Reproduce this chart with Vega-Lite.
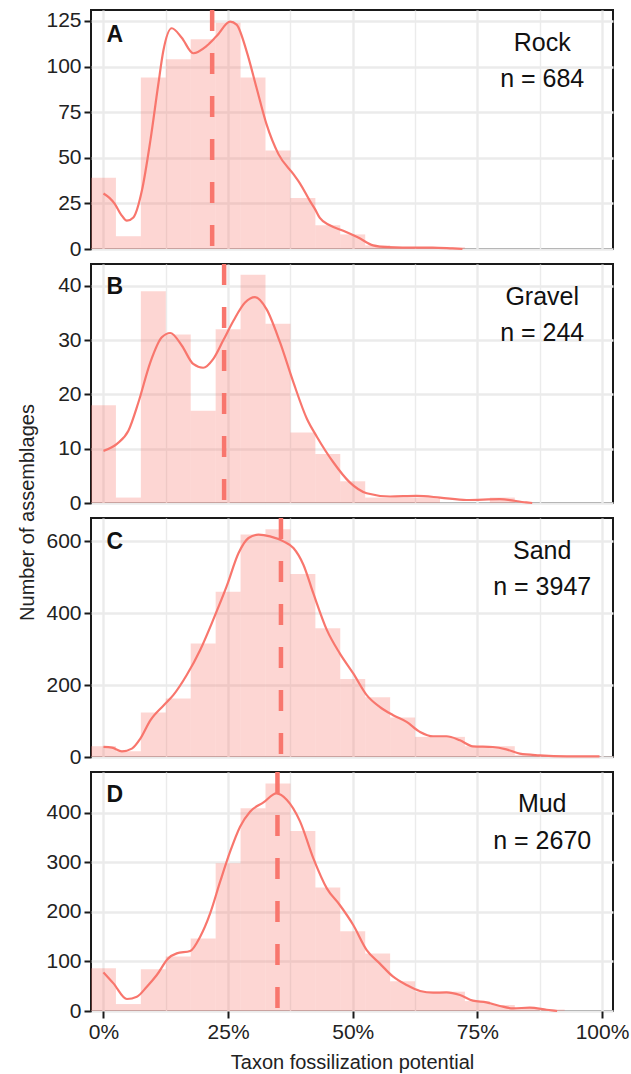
{
  "$schema": "https://vega.github.io/schema/vega-lite/v6.json",
  "background": "white",
  "padding": {"left": 16, "top": 6, "right": 4, "bottom": 4},
  "bounds": "flush",
  "spacing": 15,
  "config": {
    "font": "Liberation Sans",
    "view": {"stroke": "#1a1a1a", "strokeWidth": 2},
    "axis": {
      "domain": false,
      "gridColor": "#EBEBEB",
      "tickColor": "#1a1a1a",
      "tickWidth": 2,
      "tickSize": 7,
      "labelColor": "#222222",
      "labelFontSize": 21,
      "labelPadding": 3,
      "labelOverlap": false,
      "labelFlush": false,
      "titleFontSize": 20,
      "titleFontWeight": "normal",
      "titleColor": "#222222"
    }
  },
  "datasets": {
    "hist": [
      {"panel": "A", "lo": -2.5, "hi": 2.5, "count": 39},
      {"panel": "A", "lo": 2.5, "hi": 7.5, "count": 7},
      {"panel": "A", "lo": 7.5, "hi": 12.5, "count": 94},
      {"panel": "A", "lo": 12.5, "hi": 17.5, "count": 104},
      {"panel": "A", "lo": 17.5, "hi": 22.5, "count": 115},
      {"panel": "A", "lo": 22.5, "hi": 27.5, "count": 124},
      {"panel": "A", "lo": 27.5, "hi": 32.5, "count": 94},
      {"panel": "A", "lo": 32.5, "hi": 37.5, "count": 54},
      {"panel": "A", "lo": 37.5, "hi": 42.5, "count": 28},
      {"panel": "A", "lo": 42.5, "hi": 47.5, "count": 13},
      {"panel": "A", "lo": 47.5, "hi": 52.5, "count": 8},
      {"panel": "A", "lo": 52.5, "hi": 57.5, "count": 2},
      {"panel": "A", "lo": 57.5, "hi": 62.5, "count": 1},
      {"panel": "A", "lo": 62.5, "hi": 67.5, "count": 1},
      {"panel": "A", "lo": 67.5, "hi": 72.5, "count": 1},
      {"panel": "B", "lo": -2.5, "hi": 2.5, "count": 18},
      {"panel": "B", "lo": 2.5, "hi": 7.5, "count": 1},
      {"panel": "B", "lo": 7.5, "hi": 12.5, "count": 39},
      {"panel": "B", "lo": 12.5, "hi": 17.5, "count": 31},
      {"panel": "B", "lo": 17.5, "hi": 22.5, "count": 17},
      {"panel": "B", "lo": 22.5, "hi": 27.5, "count": 32},
      {"panel": "B", "lo": 27.5, "hi": 32.5, "count": 42},
      {"panel": "B", "lo": 32.5, "hi": 37.5, "count": 33},
      {"panel": "B", "lo": 37.5, "hi": 42.5, "count": 13},
      {"panel": "B", "lo": 42.5, "hi": 47.5, "count": 9},
      {"panel": "B", "lo": 47.5, "hi": 52.5, "count": 4},
      {"panel": "B", "lo": 52.5, "hi": 57.5, "count": 1},
      {"panel": "B", "lo": 57.5, "hi": 62.5, "count": 1},
      {"panel": "B", "lo": 62.5, "hi": 67.5, "count": 1},
      {"panel": "B", "lo": 77.5, "hi": 82.5, "count": 1},
      {"panel": "C", "lo": -2.5, "hi": 2.5, "count": 30},
      {"panel": "C", "lo": 2.5, "hi": 7.5, "count": 16},
      {"panel": "C", "lo": 7.5, "hi": 12.5, "count": 124},
      {"panel": "C", "lo": 12.5, "hi": 17.5, "count": 163},
      {"panel": "C", "lo": 17.5, "hi": 22.5, "count": 316},
      {"panel": "C", "lo": 22.5, "hi": 27.5, "count": 460},
      {"panel": "C", "lo": 27.5, "hi": 32.5, "count": 619},
      {"panel": "C", "lo": 32.5, "hi": 37.5, "count": 634},
      {"panel": "C", "lo": 37.5, "hi": 42.5, "count": 509},
      {"panel": "C", "lo": 42.5, "hi": 47.5, "count": 358},
      {"panel": "C", "lo": 47.5, "hi": 52.5, "count": 217},
      {"panel": "C", "lo": 52.5, "hi": 57.5, "count": 166},
      {"panel": "C", "lo": 57.5, "hi": 62.5, "count": 110},
      {"panel": "C", "lo": 62.5, "hi": 67.5, "count": 56},
      {"panel": "C", "lo": 67.5, "hi": 72.5, "count": 56},
      {"panel": "C", "lo": 72.5, "hi": 77.5, "count": 30},
      {"panel": "C", "lo": 77.5, "hi": 82.5, "count": 30},
      {"panel": "C", "lo": 82.5, "hi": 87.5, "count": 5},
      {"panel": "C", "lo": 87.5, "hi": 92.5, "count": 3},
      {"panel": "C", "lo": 92.5, "hi": 97.5, "count": 2},
      {"panel": "C", "lo": 97.5, "hi": 102.5, "count": 1},
      {"panel": "D", "lo": -2.5, "hi": 2.5, "count": 86},
      {"panel": "D", "lo": 2.5, "hi": 7.5, "count": 14},
      {"panel": "D", "lo": 7.5, "hi": 12.5, "count": 84},
      {"panel": "D", "lo": 12.5, "hi": 17.5, "count": 110},
      {"panel": "D", "lo": 17.5, "hi": 22.5, "count": 146},
      {"panel": "D", "lo": 22.5, "hi": 27.5, "count": 298},
      {"panel": "D", "lo": 27.5, "hi": 32.5, "count": 409},
      {"panel": "D", "lo": 32.5, "hi": 37.5, "count": 459},
      {"panel": "D", "lo": 37.5, "hi": 42.5, "count": 363},
      {"panel": "D", "lo": 42.5, "hi": 47.5, "count": 249},
      {"panel": "D", "lo": 47.5, "hi": 52.5, "count": 161},
      {"panel": "D", "lo": 52.5, "hi": 57.5, "count": 116},
      {"panel": "D", "lo": 57.5, "hi": 62.5, "count": 60},
      {"panel": "D", "lo": 62.5, "hi": 67.5, "count": 39},
      {"panel": "D", "lo": 67.5, "hi": 72.5, "count": 39},
      {"panel": "D", "lo": 72.5, "hi": 77.5, "count": 20},
      {"panel": "D", "lo": 77.5, "hi": 82.5, "count": 12},
      {"panel": "D", "lo": 82.5, "hi": 87.5, "count": 6},
      {"panel": "D", "lo": 87.5, "hi": 92.5, "count": 3}
    ],
    "dens": [
      {"panel": "A", "x": 0, "y": 30.4}, {"panel": "A", "x": 1.2, "y": 28}, {"panel": "A", "x": 2.3, "y": 24.6},
      {"panel": "A", "x": 3.5, "y": 19}, {"panel": "A", "x": 4.7, "y": 15.5}, {"panel": "A", "x": 6, "y": 17.3},
      {"panel": "A", "x": 7.7, "y": 31.9}, {"panel": "A", "x": 9.4, "y": 59.3}, {"panel": "A", "x": 11, "y": 90.3},
      {"panel": "A", "x": 12, "y": 108.5}, {"panel": "A", "x": 13.7, "y": 121}, {"panel": "A", "x": 15.7, "y": 115.8},
      {"panel": "A", "x": 18, "y": 107.3}, {"panel": "A", "x": 20.7, "y": 111.3}, {"panel": "A", "x": 22.7, "y": 116.7},
      {"panel": "A", "x": 25.4, "y": 124.6}, {"panel": "A", "x": 26.7, "y": 123}, {"panel": "A", "x": 28.7, "y": 108.5},
      {"panel": "A", "x": 30.7, "y": 88.4}, {"panel": "A", "x": 32.7, "y": 68.4}, {"panel": "A", "x": 35.1, "y": 52},
      {"panel": "A", "x": 38.1, "y": 41}, {"panel": "A", "x": 39.4, "y": 36}, {"panel": "A", "x": 41.4, "y": 26.4},
      {"panel": "A", "x": 42.4, "y": 22}, {"panel": "A", "x": 43.4, "y": 17}, {"panel": "A", "x": 45.4, "y": 13},
      {"panel": "A", "x": 48.1, "y": 10}, {"panel": "A", "x": 51.1, "y": 6.3}, {"panel": "A", "x": 54.1, "y": 2},
      {"panel": "A", "x": 57, "y": 1}, {"panel": "A", "x": 60, "y": 0.8}, {"panel": "A", "x": 66, "y": 0.8},
      {"panel": "A", "x": 70, "y": 0.3}, {"panel": "A", "x": 72, "y": 0},
      {"panel": "B", "x": 0, "y": 9.6}, {"panel": "B", "x": 2.7, "y": 10.9}, {"panel": "B", "x": 5, "y": 13.3},
      {"panel": "B", "x": 7, "y": 18.5}, {"panel": "B", "x": 9.4, "y": 25.9}, {"panel": "B", "x": 11.7, "y": 30.5},
      {"panel": "B", "x": 13.4, "y": 31.3}, {"panel": "B", "x": 15.7, "y": 29}, {"panel": "B", "x": 18, "y": 25.6},
      {"panel": "B", "x": 20, "y": 24.9}, {"panel": "B", "x": 22, "y": 26.5}, {"panel": "B", "x": 24, "y": 29.9},
      {"panel": "B", "x": 26.1, "y": 33.6}, {"panel": "B", "x": 28.4, "y": 36.9}, {"panel": "B", "x": 30.4, "y": 37.9},
      {"panel": "B", "x": 32.7, "y": 35.7}, {"panel": "B", "x": 35.4, "y": 29.6}, {"panel": "B", "x": 38.1, "y": 22.2},
      {"panel": "B", "x": 40.8, "y": 15.5}, {"panel": "B", "x": 42.8, "y": 12.2}, {"panel": "B", "x": 46.1, "y": 7.5},
      {"panel": "B", "x": 49.4, "y": 3.8}, {"panel": "B", "x": 52.8, "y": 1.8}, {"panel": "B", "x": 57.5, "y": 1.2},
      {"panel": "B", "x": 62.8, "y": 1.3}, {"panel": "B", "x": 67.5, "y": 1.0}, {"panel": "B", "x": 72.8, "y": 0.55},
      {"panel": "B", "x": 79.5, "y": 0.7}, {"panel": "B", "x": 84.8, "y": 0.1}, {"panel": "B", "x": 86, "y": 0},
      {"panel": "C", "x": 0, "y": 27.9}, {"panel": "C", "x": 1.7, "y": 26}, {"panel": "C", "x": 3.7, "y": 15.8},
      {"panel": "C", "x": 5.7, "y": 23.3}, {"panel": "C", "x": 7.4, "y": 51.2}, {"panel": "C", "x": 9.4, "y": 102},
      {"panel": "C", "x": 12.1, "y": 144.2}, {"panel": "C", "x": 14, "y": 172}, {"panel": "C", "x": 16.7, "y": 228},
      {"panel": "C", "x": 19.4, "y": 297.8}, {"panel": "C", "x": 22, "y": 381.5}, {"panel": "C", "x": 24.7, "y": 474.5},
      {"panel": "C", "x": 27.1, "y": 567.5}, {"panel": "C", "x": 29.1, "y": 609.4}, {"panel": "C", "x": 31.1, "y": 618.7},
      {"panel": "C", "x": 33.4, "y": 614}, {"panel": "C", "x": 36.1, "y": 600}, {"panel": "C", "x": 38.1, "y": 581.4},
      {"panel": "C", "x": 40.1, "y": 535}, {"panel": "C", "x": 42.1, "y": 455}, {"panel": "C", "x": 44.8, "y": 353.6},
      {"panel": "C", "x": 47.4, "y": 288.3}, {"panel": "C", "x": 50.1, "y": 232.5}, {"panel": "C", "x": 52.8, "y": 172.2},
      {"panel": "C", "x": 55.4, "y": 139.5}, {"panel": "C", "x": 58.1, "y": 116.4}, {"panel": "C", "x": 60.8, "y": 97.7},
      {"panel": "C", "x": 63.5, "y": 69.8}, {"panel": "C", "x": 66.1, "y": 57.7}, {"panel": "C", "x": 68.8, "y": 57.7},
      {"panel": "C", "x": 71.5, "y": 46.5}, {"panel": "C", "x": 74.1, "y": 29.8}, {"panel": "C", "x": 78.1, "y": 27.9},
      {"panel": "C", "x": 80.8, "y": 21.4}, {"panel": "C", "x": 83.5, "y": 9.3}, {"panel": "C", "x": 87.5, "y": 4.7},
      {"panel": "C", "x": 92.9, "y": 1.9}, {"panel": "C", "x": 99.5, "y": 1.5},
      {"panel": "D", "x": 0, "y": 77.9}, {"panel": "D", "x": 2, "y": 55.7}, {"panel": "D", "x": 4.7, "y": 24.2},
      {"panel": "D", "x": 6.7, "y": 28.8}, {"panel": "D", "x": 8.7, "y": 49}, {"panel": "D", "x": 10.7, "y": 72.6},
      {"panel": "D", "x": 13, "y": 106.1}, {"panel": "D", "x": 14.7, "y": 116.2}, {"panel": "D", "x": 17.4, "y": 121},
      {"panel": "D", "x": 19.4, "y": 149.9}, {"panel": "D", "x": 21.4, "y": 196.9}, {"panel": "D", "x": 23.4, "y": 260.8},
      {"panel": "D", "x": 25.4, "y": 321.3}, {"panel": "D", "x": 27.4, "y": 371.7}, {"panel": "D", "x": 29.4, "y": 402},
      {"panel": "D", "x": 32.1, "y": 420.7}, {"panel": "D", "x": 34.7, "y": 438.9}, {"panel": "D", "x": 36.8, "y": 425.6},
      {"panel": "D", "x": 39.4, "y": 383}, {"panel": "D", "x": 42.1, "y": 307.8}, {"panel": "D", "x": 44.8, "y": 247.3},
      {"panel": "D", "x": 47.4, "y": 213.8}, {"panel": "D", "x": 50.1, "y": 173.5}, {"panel": "D", "x": 52.8, "y": 123},
      {"panel": "D", "x": 55.4, "y": 96}, {"panel": "D", "x": 58.1, "y": 69.2}, {"panel": "D", "x": 60.8, "y": 52.4},
      {"panel": "D", "x": 63.5, "y": 40.3}, {"panel": "D", "x": 66.1, "y": 36.9}, {"panel": "D", "x": 68.8, "y": 37.6},
      {"panel": "D", "x": 71.5, "y": 32.3}, {"panel": "D", "x": 74.1, "y": 20.8}, {"panel": "D", "x": 76.8, "y": 17.3},
      {"panel": "D", "x": 79.5, "y": 10.1}, {"panel": "D", "x": 82.2, "y": 5.3}, {"panel": "D", "x": 85.5, "y": 6.7},
      {"panel": "D", "x": 88.9, "y": 2.5}, {"panel": "D", "x": 91, "y": 0}
    ],
    "stats": [
      {"panel": "A", "letter": "A", "substrate": "Rock", "ntext": "n = 684", "mean": 21.8},
      {"panel": "B", "letter": "B", "substrate": "Gravel", "ntext": "n = 244", "mean": 24.2},
      {"panel": "C", "letter": "C", "substrate": "Sand", "ntext": "n = 3947", "mean": 35.6},
      {"panel": "D", "letter": "D", "substrate": "Mud", "ntext": "n = 2670", "mean": 34.9}
    ]
  },
  "vconcat": [
    {
      "width": 522, "height": 239,
      "layer": [
        {
          "data": {"name": "hist"}, "transform": [{"filter": "datum.panel === 'A'"}],
          "mark": {"type": "rect", "color": "#F8766D", "opacity": 0.3},
          "encoding": {
            "x": {"field": "lo", "type": "quantitative", "scale": {"domain": [-2.5, 102.2], "nice": false, "zero": false},
              "axis": {"values": [0, 12.5, 25, 37.5, 50, 62.5, 75, 87.5, 100], "labels": false, "ticks": false, "title": null,
                "gridWidth": {"condition": {"test": "datum.value % 25 === 0", "value": 2.4}, "value": 1.4}}},
            "x2": {"field": "hi"},
            "y": {"field": "count", "type": "quantitative", "scale": {"domain": [0, 131], "nice": false},
              "axis": {"values": [0, 12.5, 25, 37.5, 50, 62.5, 75, 87.5, 100, 112.5, 125], "title": null,
                "labelExpr": "datum.value % 25 === 0 ? datum.label : ''",
                "tickOpacity": {"condition": {"test": "datum.value % 25 === 0", "value": 1}, "value": 0},
                "gridWidth": {"condition": {"test": "datum.value % 25 === 0", "value": 2.4}, "value": 1.4}}},
            "y2": {"datum": 0}
          }
        },
        {
          "data": {"name": "dens"}, "transform": [{"filter": "datum.panel === 'A'"}],
          "mark": {"type": "line", "color": "#F8766D", "strokeWidth": 2.2, "interpolate": "monotone"},
          "encoding": {"x": {"field": "x", "type": "quantitative"}, "y": {"field": "y", "type": "quantitative"}}
        },
        {
          "data": {"name": "stats"}, "transform": [{"filter": "datum.panel === 'A'"}],
          "mark": {"type": "rule", "color": "#F8766D", "strokeWidth": 4.5, "strokeDash": [21, 22]},
          "encoding": {"x": {"field": "mean", "type": "quantitative"}}
        },
        {
          "data": {"name": "stats"}, "transform": [{"filter": "datum.panel === 'A'"}],
          "mark": {"type": "text", "align": "left", "baseline": "alphabetic", "fontSize": 23, "fontWeight": "bold", "color": "#111111"},
          "encoding": {"x": {"datum": 0.6}, "y": {"datum": 113.5}, "text": {"field": "letter"}}
        },
        {
          "data": {"name": "stats"}, "transform": [{"filter": "datum.panel === 'A'"}],
          "mark": {"type": "text", "align": "center", "baseline": "alphabetic", "fontSize": 25, "color": "#111111"},
          "encoding": {"x": {"datum": 88}, "y": {"datum": 108.8}, "text": {"field": "substrate"}}
        },
        {
          "data": {"name": "stats"}, "transform": [{"filter": "datum.panel === 'A'"}],
          "mark": {"type": "text", "align": "center", "baseline": "alphabetic", "fontSize": 25, "color": "#111111"},
          "encoding": {"x": {"datum": 88}, "y": {"datum": 88.9}, "text": {"field": "ntext"}}
        }
      ]
    },
    {
      "width": 522, "height": 239,
      "layer": [
        {
          "data": {"name": "hist"}, "transform": [{"filter": "datum.panel === 'B'"}],
          "mark": {"type": "rect", "color": "#F8766D", "opacity": 0.3},
          "encoding": {
            "x": {"field": "lo", "type": "quantitative", "scale": {"domain": [-2.5, 102.2], "nice": false, "zero": false},
              "axis": {"values": [0, 12.5, 25, 37.5, 50, 62.5, 75, 87.5, 100], "labels": false, "ticks": false, "title": null,
                "gridWidth": {"condition": {"test": "datum.value % 25 === 0", "value": 2.4}, "value": 1.4}}},
            "x2": {"field": "hi"},
            "y": {"field": "count", "type": "quantitative", "scale": {"domain": [0, 44], "nice": false},
              "axis": {"values": [0, 5, 10, 15, 20, 25, 30, 35, 40], "title": "Number of assemblages",
                "titleX": -64, "titleY": 248, "titleBaseline": "middle", "titleAngle": 270,
                "labelExpr": "datum.value % 10 === 0 ? datum.label : ''",
                "tickOpacity": {"condition": {"test": "datum.value % 10 === 0", "value": 1}, "value": 0},
                "gridWidth": {"condition": {"test": "datum.value % 10 === 0", "value": 2.4}, "value": 1.4}}},
            "y2": {"datum": 0}
          }
        },
        {
          "data": {"name": "dens"}, "transform": [{"filter": "datum.panel === 'B'"}],
          "mark": {"type": "line", "color": "#F8766D", "strokeWidth": 2.2, "interpolate": "monotone"},
          "encoding": {"x": {"field": "x", "type": "quantitative"}, "y": {"field": "y", "type": "quantitative"}}
        },
        {
          "data": {"name": "stats"}, "transform": [{"filter": "datum.panel === 'B'"}],
          "mark": {"type": "rule", "color": "#F8766D", "strokeWidth": 4.5, "strokeDash": [21, 22]},
          "encoding": {"x": {"field": "mean", "type": "quantitative"}}
        },
        {
          "data": {"name": "stats"}, "transform": [{"filter": "datum.panel === 'B'"}],
          "mark": {"type": "text", "align": "left", "baseline": "alphabetic", "fontSize": 23, "fontWeight": "bold", "color": "#111111"},
          "encoding": {"x": {"datum": 0.6}, "y": {"datum": 38.5}, "text": {"field": "letter"}}
        },
        {
          "data": {"name": "stats"}, "transform": [{"filter": "datum.panel === 'B'"}],
          "mark": {"type": "text", "align": "center", "baseline": "alphabetic", "fontSize": 25, "color": "#111111"},
          "encoding": {"x": {"datum": 88}, "y": {"datum": 36.5}, "text": {"field": "substrate"}}
        },
        {
          "data": {"name": "stats"}, "transform": [{"filter": "datum.panel === 'B'"}],
          "mark": {"type": "text", "align": "center", "baseline": "alphabetic", "fontSize": 25, "color": "#111111"},
          "encoding": {"x": {"datum": 88}, "y": {"datum": 29.8}, "text": {"field": "ntext"}}
        }
      ]
    },
    {
      "width": 522, "height": 239,
      "layer": [
        {
          "data": {"name": "hist"}, "transform": [{"filter": "datum.panel === 'C'"}],
          "mark": {"type": "rect", "color": "#F8766D", "opacity": 0.3},
          "encoding": {
            "x": {"field": "lo", "type": "quantitative", "scale": {"domain": [-2.5, 102.2], "nice": false, "zero": false},
              "axis": {"values": [0, 12.5, 25, 37.5, 50, 62.5, 75, 87.5, 100], "labels": false, "ticks": false, "title": null,
                "gridWidth": {"condition": {"test": "datum.value % 25 === 0", "value": 2.4}, "value": 1.4}}},
            "x2": {"field": "hi"},
            "y": {"field": "count", "type": "quantitative", "scale": {"domain": [0, 665], "nice": false},
              "axis": {"values": [0, 100, 200, 300, 400, 500, 600], "title": null,
                "labelExpr": "datum.value % 200 === 0 ? datum.label : ''",
                "tickOpacity": {"condition": {"test": "datum.value % 200 === 0", "value": 1}, "value": 0},
                "gridWidth": {"condition": {"test": "datum.value % 200 === 0", "value": 2.4}, "value": 1.4}}},
            "y2": {"datum": 0}
          }
        },
        {
          "data": {"name": "dens"}, "transform": [{"filter": "datum.panel === 'C'"}],
          "mark": {"type": "line", "color": "#F8766D", "strokeWidth": 2.2, "interpolate": "monotone"},
          "encoding": {"x": {"field": "x", "type": "quantitative"}, "y": {"field": "y", "type": "quantitative"}}
        },
        {
          "data": {"name": "stats"}, "transform": [{"filter": "datum.panel === 'C'"}],
          "mark": {"type": "rule", "color": "#F8766D", "strokeWidth": 4.5, "strokeDash": [21, 22]},
          "encoding": {"x": {"field": "mean", "type": "quantitative"}}
        },
        {
          "data": {"name": "stats"}, "transform": [{"filter": "datum.panel === 'C'"}],
          "mark": {"type": "text", "align": "left", "baseline": "alphabetic", "fontSize": 23, "fontWeight": "bold", "color": "#111111"},
          "encoding": {"x": {"datum": 0.6}, "y": {"datum": 578}, "text": {"field": "letter"}}
        },
        {
          "data": {"name": "stats"}, "transform": [{"filter": "datum.panel === 'C'"}],
          "mark": {"type": "text", "align": "center", "baseline": "alphabetic", "fontSize": 25, "color": "#111111"},
          "encoding": {"x": {"datum": 88}, "y": {"datum": 552}, "text": {"field": "substrate"}}
        },
        {
          "data": {"name": "stats"}, "transform": [{"filter": "datum.panel === 'C'"}],
          "mark": {"type": "text", "align": "center", "baseline": "alphabetic", "fontSize": 25, "color": "#111111"},
          "encoding": {"x": {"datum": 88}, "y": {"datum": 450}, "text": {"field": "ntext"}}
        }
      ]
    },
    {
      "width": 522, "height": 239,
      "layer": [
        {
          "data": {"name": "hist"}, "transform": [{"filter": "datum.panel === 'D'"}],
          "mark": {"type": "rect", "color": "#F8766D", "opacity": 0.3},
          "encoding": {
            "x": {"field": "lo", "type": "quantitative", "scale": {"domain": [-2.5, 102.2], "nice": false, "zero": false},
              "axis": {"values": [0, 12.5, 25, 37.5, 50, 62.5, 75, 87.5, 100], "title": "Taxon fossilization potential",
                "titlePadding": 10,
                "labelExpr": "datum.value % 25 === 0 ? datum.value + '%' : ''",
                "tickOpacity": {"condition": {"test": "datum.value % 25 === 0", "value": 1}, "value": 0},
                "gridWidth": {"condition": {"test": "datum.value % 25 === 0", "value": 2.4}, "value": 1.4}}},
            "x2": {"field": "hi"},
            "y": {"field": "count", "type": "quantitative", "scale": {"domain": [0, 482], "nice": false},
              "axis": {"values": [0, 50, 100, 150, 200, 250, 300, 350, 400, 450], "title": null,
                "labelExpr": "datum.value % 100 === 0 ? datum.label : ''",
                "tickOpacity": {"condition": {"test": "datum.value % 100 === 0", "value": 1}, "value": 0},
                "gridWidth": {"condition": {"test": "datum.value % 100 === 0", "value": 2.4}, "value": 1.4}}},
            "y2": {"datum": 0}
          }
        },
        {
          "data": {"name": "dens"}, "transform": [{"filter": "datum.panel === 'D'"}],
          "mark": {"type": "line", "color": "#F8766D", "strokeWidth": 2.2, "interpolate": "monotone"},
          "encoding": {"x": {"field": "x", "type": "quantitative"}, "y": {"field": "y", "type": "quantitative"}}
        },
        {
          "data": {"name": "stats"}, "transform": [{"filter": "datum.panel === 'D'"}],
          "mark": {"type": "rule", "color": "#F8766D", "strokeWidth": 4.5, "strokeDash": [21, 22]},
          "encoding": {"x": {"field": "mean", "type": "quantitative"}}
        },
        {
          "data": {"name": "stats"}, "transform": [{"filter": "datum.panel === 'D'"}],
          "mark": {"type": "text", "align": "left", "baseline": "alphabetic", "fontSize": 23, "fontWeight": "bold", "color": "#111111"},
          "encoding": {"x": {"datum": 0.6}, "y": {"datum": 420.5}, "text": {"field": "letter"}}
        },
        {
          "data": {"name": "stats"}, "transform": [{"filter": "datum.panel === 'D'"}],
          "mark": {"type": "text", "align": "center", "baseline": "alphabetic", "fontSize": 25, "color": "#111111"},
          "encoding": {"x": {"datum": 88}, "y": {"datum": 401.3}, "text": {"field": "substrate"}}
        },
        {
          "data": {"name": "stats"}, "transform": [{"filter": "datum.panel === 'D'"}],
          "mark": {"type": "text", "align": "center", "baseline": "alphabetic", "fontSize": 25, "color": "#111111"},
          "encoding": {"x": {"datum": 88}, "y": {"datum": 327.7}, "text": {"field": "ntext"}}
        }
      ]
    }
  ]
}
